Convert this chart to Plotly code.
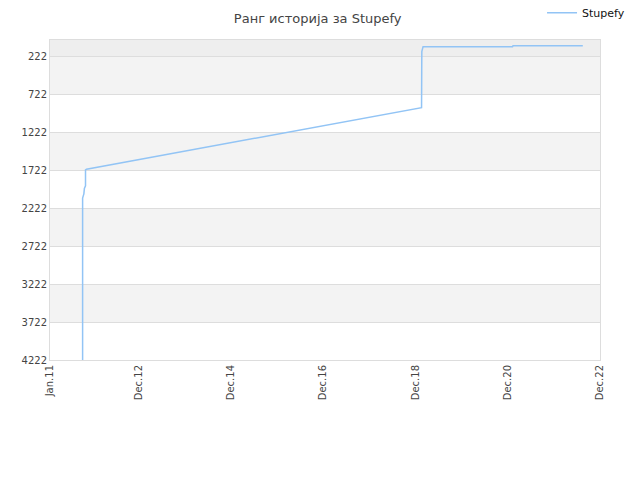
import plotly.graph_objects as go

# rank history values
dates = [
    "2011-09-16", "2011-09-16", "2011-09-26", "2011-09-30", "2011-10-09",
    "2011-10-09", "2011-10-17", "2019-01-19", "2019-01-21", "2019-01-31",
    "2021-01-08", "2021-01-12", "2022-07-18",
]
ranks = [4222, 2085, 2030, 1960, 1925, 1715, 1705, 893, 154, 88, 88, 75, 75]

tick_dates = ["2011-01-01", "2012-12-01", "2014-12-01", "2016-12-01",
              "2018-12-01", "2020-12-01", "2022-12-01"]
tick_labels = ["Jan.11", "Dec.12", "Dec.14", "Dec.16", "Dec.18", "Dec.20", "Dec.22"]
rank_ticks = [222, 722, 1222, 1722, 2222, 2722, 3222, 3722, 4222]

trace = go.Scatter(
    x=dates,
    y=ranks,
    mode="lines",
    name="Stupefy",
    line=dict(color="#92c4f5", width=1.5),
)

shapes = [dict(type="rect", xref="paper", yref="y", x0=0, x1=1, y0=0, y1=222,
               fillcolor="#eeeeee", line_width=0, layer="below")]
for i in range(len(rank_ticks) - 1):
    if i % 2 == 0:
        shapes.append(dict(type="rect", xref="paper", yref="y", x0=0, x1=1,
                           y0=rank_ticks[i], y1=rank_ticks[i + 1],
                           fillcolor="#f3f3f3", line_width=0, layer="below"))

# page body adds ~8px offset, so the figure is a bit smaller than the window
layout = go.Layout(
    width=632,
    height=472,
    margin=dict(l=42, r=40, t=32, b=120, autoexpand=False),
    paper_bgcolor="white",
    plot_bgcolor="white",
    font=dict(family="DejaVu Sans", size=10, color="#444444"),
    title=dict(text="Ранг историја за Stupefy", x=0.49, xanchor="center",
               y=0.988, yanchor="top", font=dict(size=13, color="#444444")),
    showlegend=True,
    legend=dict(xref="container", yref="container", x=0.845, xanchor="left",
                y=0.99, yanchor="middle",
                font=dict(size=11, color="#111111"), bgcolor="rgba(0,0,0,0)"),
    xaxis=dict(
        type="date",
        range=["2011-01-01", "2022-12-01"],
        tickvals=tick_dates,
        ticktext=tick_labels,
        tickangle=-90,
        showgrid=False,
        showline=True,
        linecolor="#dddddd",
        mirror=True,
        zeroline=False,
        automargin=False,
        tickfont=dict(size=10, color="#444444"),
    ),
    yaxis=dict(
        range=[4222, 0],
        tickvals=rank_ticks,
        showgrid=True,
        gridcolor="#dddddd",
        showline=True,
        linecolor="#dddddd",
        mirror=True,
        zeroline=False,
        automargin=False,
        tickfont=dict(size=10, color="#444444"),
    ),
    shapes=shapes,
)

fig = go.Figure(data=[trace], layout=layout)
fig.write_html("out.html")
